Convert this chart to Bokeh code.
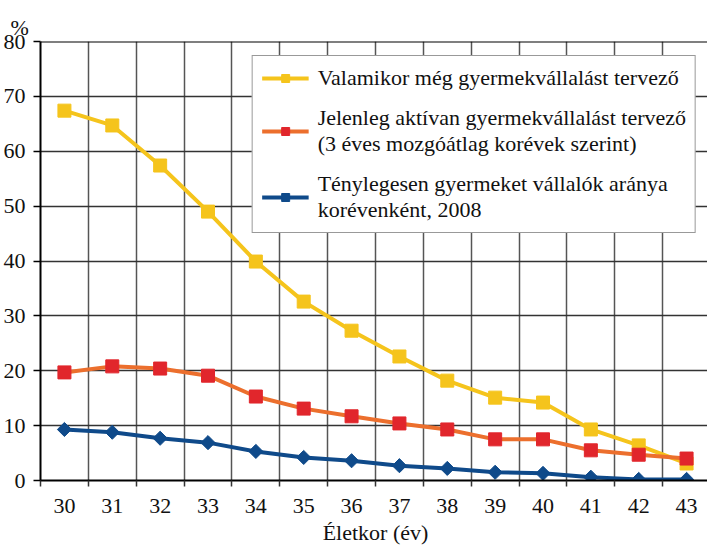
import numpy as np
from bokeh.plotting import figure
from bokeh.models import FixedTicker, Legend, LegendItem, Span, Title, Range1d
from bokeh.embed import file_html
from bokeh.resources import INLINE

ages = [30, 31, 32, 33, 34, 35, 36, 37, 38, 39, 40, 41, 42, 43]
valamikor = [67.4, 64.7, 57.4, 49.0, 39.9, 32.6, 27.3, 22.6, 18.2, 15.1, 14.2, 9.3, 6.4, 3.1]
jelenleg = [19.7, 20.8, 20.4, 19.1, 15.3, 13.1, 11.7, 10.4, 9.3, 7.5, 7.5, 5.5, 4.7, 4.0]
tenyleges = [9.3, 8.8, 7.7, 6.9, 5.3, 4.2, 3.6, 2.7, 2.2, 1.5, 1.3, 0.6, 0.2, 0.2]
y_ticks = [0, 10, 20, 30, 40, 50, 60, 70, 80]

label_val = "Valamikor még gyermekvállalást tervező"
label_jel = "Jelenleg aktívan gyermekvállalást tervező\n(3 éves mozgóátlag korévek szerint)"
label_ten = "Ténylegesen gyermeket vállalók aránya\nkorévenként, 2008"

FONT = "Liberation Serif"
FS = "22px"
YELLOW = "#F5C41C"
ORANGE = "#EC6F2D"
RED = "#E1262C"
BLUE = "#0F4A8A"

p = figure(frame_width=670, frame_height=439, output_backend="svg", toolbar_location=None,
           x_range=Range1d(29.5, 43.5), y_range=Range1d(0, 80),
           min_border_left=37, min_border_right=0, min_border_top=41, min_border_bottom=50)
p.outline_line_color = None
p.background_fill_color = "white"

p.add_layout(Title(text="%", align="left", offset=-30, text_font=FONT, text_font_size=FS,
                   text_font_style="normal", text_color="#111111", standoff=4), "above")

boundaries = [a + 0.5 for a in ages[:-1]]
p.xaxis.ticker = FixedTicker(ticks=ages, minor_ticks=[29.5] + boundaries)
p.xgrid.ticker = FixedTicker(ticks=boundaries)
p.yaxis.ticker = FixedTicker(ticks=y_ticks)

p.xgrid.grid_line_color = "#555555"
p.xgrid.grid_line_width = 1.5
p.ygrid.grid_line_color = "#333333"
p.ygrid.grid_line_width = 1.5

for ax in (p.xaxis[0], p.yaxis[0]):
    ax.axis_line_color = "black"
    ax.axis_line_width = 2
    ax.major_label_text_font = FONT
    ax.major_label_text_font_size = FS
    ax.major_label_text_color = "#111111"

p.xaxis.major_tick_line_color = None
p.xaxis.major_tick_out = 0
p.xaxis.major_tick_in = 0
p.xaxis.minor_tick_line_color = "#333333"
p.xaxis.minor_tick_line_width = 1.5
p.xaxis.minor_tick_out = 6
p.xaxis.minor_tick_in = 0
p.xaxis.major_label_standoff = 12
p.xaxis.axis_label = "Életkor (év)"
p.xaxis.axis_label_text_font = FONT
p.xaxis.axis_label_text_font_size = FS
p.xaxis.axis_label_text_font_style = "normal"
p.xaxis.axis_label_text_color = "#111111"
p.xaxis.axis_label_standoff = 4

p.yaxis.major_tick_line_color = "black"
p.yaxis.major_tick_line_width = 1.5
p.yaxis.major_tick_out = 7
p.yaxis.major_tick_in = 0
p.yaxis.minor_tick_line_color = None
p.yaxis.major_label_standoff = 8

p.add_layout(Span(location=80, dimension="width", line_color="black", line_width=2))

r1l = p.line(ages, valamikor, line_color=YELLOW, line_width=4)
r1m = p.scatter(ages, valamikor, marker="square", size=13, fill_color=YELLOW, line_color=YELLOW)
r2l = p.line(ages, jelenleg, line_color=ORANGE, line_width=4)
r2m = p.scatter(ages, jelenleg, marker="square", size=13, fill_color=RED, line_color=RED)
r3l = p.line(ages, tenyleges, line_color=BLUE, line_width=4)
r3m = p.scatter(ages, tenyleges, marker="square", angle=np.pi / 4, size=10,
                fill_color=BLUE, line_color=BLUE)

legend = Legend(items=[
    LegendItem(label=label_val, renderers=[r1l, r1m]),
    LegendItem(label=label_jel, renderers=[r2l, r2m]),
    LegendItem(label=label_ten, renderers=[r3l, r3m]),
], location="top_right")
legend.margin = 14
legend.padding = 9
legend.spacing = 14
legend.glyph_width = 47
legend.glyph_height = 20
legend.label_standoff = 9
legend.label_text_font = FONT
legend.label_text_font_size = FS
legend.label_text_color = "#111111"
legend.border_line_color = "#333333"
legend.border_line_width = 1
legend.background_fill_color = "white"
legend.background_fill_alpha = 1.0
p.add_layout(legend)

open("out.html", "w").write(file_html(p, INLINE))
